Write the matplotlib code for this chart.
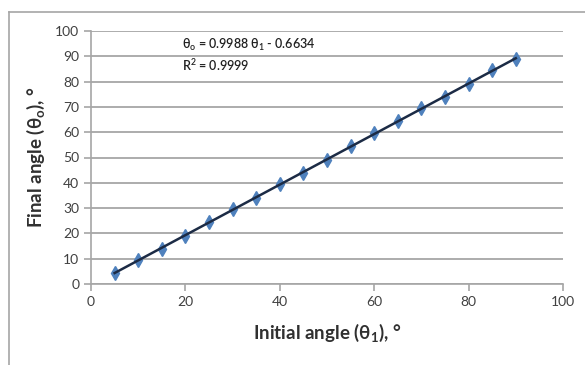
import matplotlib
matplotlib.use("Agg")
import matplotlib.pyplot as plt
import numpy as np

initial_angle = [5, 10, 15, 20, 25, 30, 35, 40, 45, 50, 55, 60, 65, 70, 75, 80, 85, 90]
final_angle = [4.5, 9.5, 14, 19, 24.5, 29.5, 34, 39.5, 44, 49, 54.5, 59.5, 64.5, 69.5, 74, 79, 84.5, 89]
slope, intercept = 0.9988, -0.6634
x_ticks = [0, 20, 40, 60, 80, 100]
y_ticks = [0, 10, 20, 30, 40, 50, 60, 70, 80, 90, 100]

plt.rcParams['font.family'] = ['Lato', 'DejaVu Sans']

fig = plt.figure(figsize=(5.85, 3.65), dpi=100)
ax = fig.add_axes([91/585, 1-284/365, (563-91)/585, (284-31)/365])

ax.set_xlim(0, 100)
ax.set_ylim(0, 100)
ax.set_xticks(x_ticks)
ax.set_yticks(y_ticks)
ax.yaxis.grid(True, color='#A6A6A6', linewidth=1.3)
ax.set_axisbelow(True)
for s in ['top', 'right']:
    ax.spines[s].set_visible(False)
for s in ['left', 'bottom']:
    ax.spines[s].set_color('#A6A6A6')
    ax.spines[s].set_linewidth(1.2)
ax.tick_params(axis='both', colors='#A6A6A6', length=5, width=1.2, labelsize=10, labelcolor='#404040')

ax.plot(initial_angle, final_angle, linestyle='none', marker='d', markersize=7.5,
        color='#4F81BD', markeredgecolor='#4F81BD', zorder=3)
xs = np.array([initial_angle[0], initial_angle[-1]])
ax.plot(xs, slope*xs + intercept, color='#1C2B45', linewidth=1.8, zorder=4)

ax.text(19.3, 94.5, r'$\mathregular{\theta_o}$ = 0.9988 $\mathregular{\theta_1}$ - 0.6634',
        fontsize=9, va='center', ha='left', color='#202020', fontweight='semibold')
ax.text(19.3, 86.6, r'R$\mathregular{^2}$ = 0.9999', fontsize=9, va='center', ha='left', color='#202020', fontweight='semibold')

ax.set_xlabel(r'Initial angle ($\mathregular{\theta_1}$), °', fontsize=13.5, fontweight='bold', color='#303030', labelpad=10)
ax.set_ylabel(r'Final angle ($\mathregular{\theta_o}$), °', fontsize=13.5, fontweight='bold', color='#303030', labelpad=6)

# outer chart border
fig.add_artist(plt.Line2D([9/585, 1.0], [1-12/365, 1-12/365], color='#A6A6A6', linewidth=1.2, transform=fig.transFigure))
fig.add_artist(plt.Line2D([9/585, 9/585], [0, 1-12/365], color='#A6A6A6', linewidth=1.2, transform=fig.transFigure))

fig.savefig('out.png', dpi=100)
